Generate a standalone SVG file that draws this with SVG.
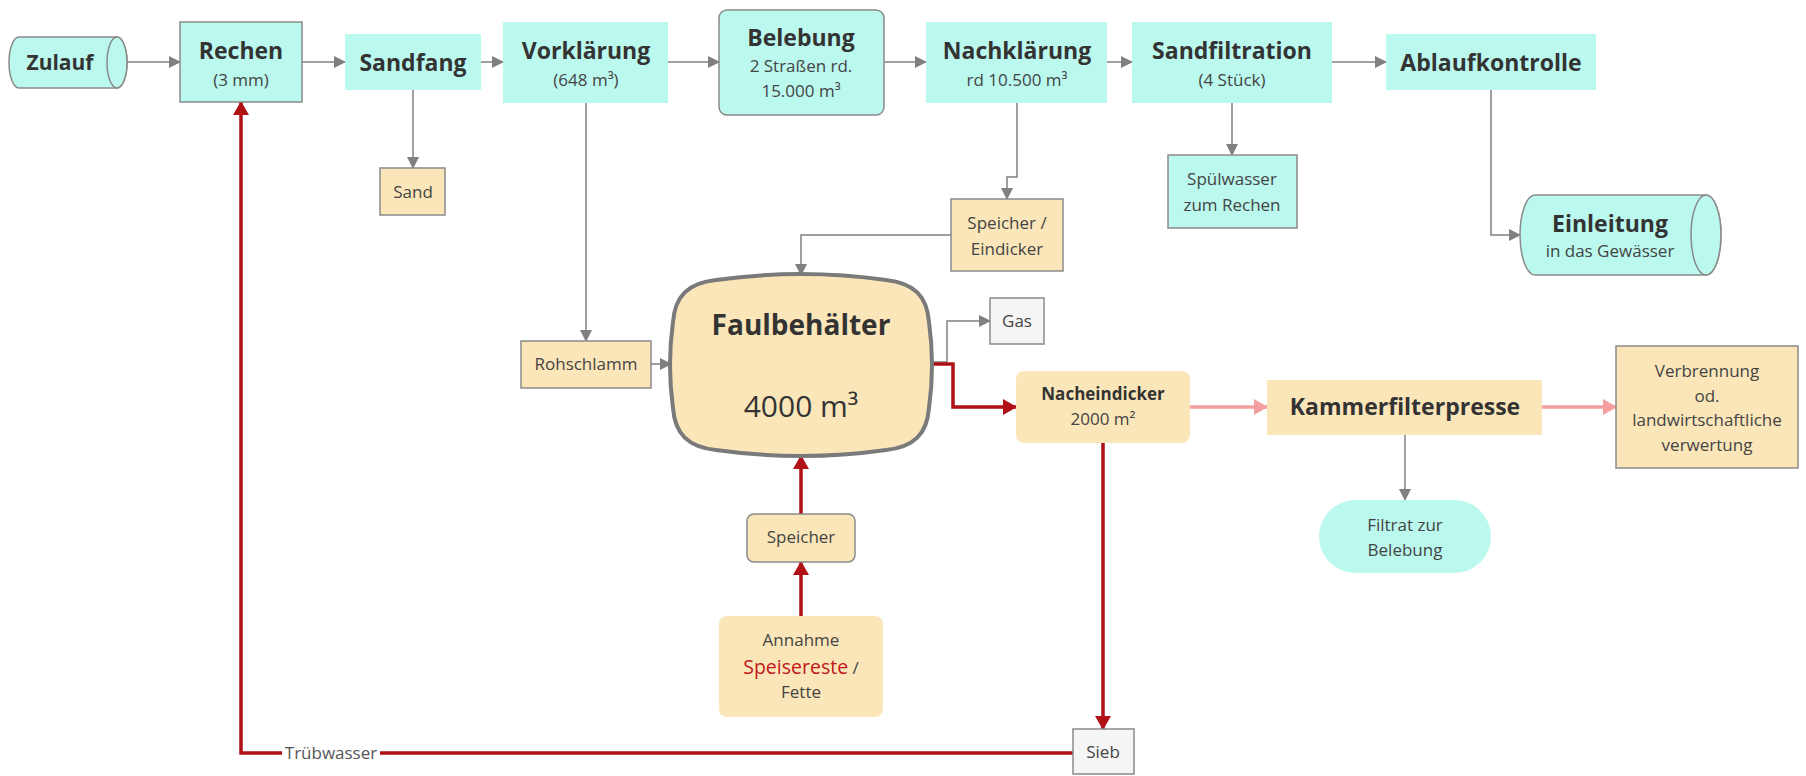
<svg xmlns="http://www.w3.org/2000/svg" width="1806" height="776" viewBox="0 0 1806 776">
<defs>
<style>
.cy{fill:#bbf8ee}
.bg{fill:#fbe6b9}
.gy{fill:#f5f5f5}
.st{stroke:#8a8a8a;stroke-width:1.5}
text{font-family:"Open Sans","Noto Sans","DejaVu Sans",sans-serif;fill:#333;text-anchor:middle}
.h{font-weight:700;font-size:23px}
.s{font-size:17px;fill:#444}
.c{stroke:#808080;stroke-width:1.5;fill:none}
.r{stroke:#b01116;stroke-width:3.5;fill:none}
.p{stroke:#f4a0a0;stroke-width:3.5;fill:none}
</style>
<marker id="ag" markerUnits="userSpaceOnUse" markerWidth="12" markerHeight="12" viewBox="0 0 12 12" refX="11" refY="6" orient="auto"><path d="M0,0 L12,6 L0,12 Z" fill="#808080"/></marker>
<marker id="ar" markerUnits="userSpaceOnUse" markerWidth="14" markerHeight="16" viewBox="0 0 14 16" refX="13" refY="8" orient="auto"><path d="M0,0 L14,8 L0,16 Z" fill="#b01116"/></marker>
<marker id="ap" markerUnits="userSpaceOnUse" markerWidth="14" markerHeight="16" viewBox="0 0 14 16" refX="13" refY="8" orient="auto"><path d="M0,0 L14,8 L0,16 Z" fill="#f4a0a0"/></marker>
</defs>
<rect width="1806" height="776" fill="#fff"/>

<g id="connectors">
<path class="c" marker-end="url(#ag)" d="M127,62 H180"/>
<path class="c" marker-end="url(#ag)" d="M302,62 H345"/>
<path class="c" marker-end="url(#ag)" d="M481,62 H503"/>
<path class="c" marker-end="url(#ag)" d="M668,62 H719"/>
<path class="c" marker-end="url(#ag)" d="M884,62 H926"/>
<path class="c" marker-end="url(#ag)" d="M1107,62 H1132"/>
<path class="c" marker-end="url(#ag)" d="M1332,62 H1386"/>
<path class="c" marker-end="url(#ag)" d="M413,90 V168"/>
<path class="c" marker-end="url(#ag)" d="M586,103 V341"/>
<path class="c" marker-end="url(#ag)" d="M1017,103 V177 H1007 V199"/>
<path class="c" marker-end="url(#ag)" d="M951,235 H801 V275"/>
<path class="c" marker-end="url(#ag)" d="M1232,103 V155"/>
<path class="c" marker-end="url(#ag)" d="M1491,90 V235 H1520"/>
<path class="c" marker-end="url(#ag)" d="M651,364 H671"/>
<path class="c" marker-end="url(#ag)" d="M932,362 H947 V321 H990"/>
<path class="c" marker-end="url(#ag)" d="M1405,435 V500"/>
<path class="r" marker-end="url(#ar)" d="M932,364 H953 V407 H1016"/>
<path class="r" marker-end="url(#ar)" d="M801,514 V456"/>
<path class="r" marker-end="url(#ar)" d="M801,616 V562"/>
<path class="r" marker-end="url(#ar)" d="M1103,443 V729"/>
<path class="r" marker-end="url(#ar)" d="M1073,753 H241 V102"/>
<rect x="282" y="742" width="98" height="22" fill="#fff"/>
<text x="331" y="759" class="s" style="fill:#555">Trübwasser</text>
<path class="p" marker-end="url(#ap)" d="M1190,407 H1267"/>
<path class="p" marker-end="url(#ap)" d="M1542,407 H1616"/>
</g>

<g id="zulauf">
<path class="cy st" d="M19,37 H117 A10,25.5 0 0 1 117,88 H19 A10,25.5 0 0 1 19,37 Z"/>
<ellipse class="cy st" cx="117" cy="62.5" rx="10" ry="25.5"/>
<text x="60" y="70" class="h" style="font-size:21px">Zulauf</text>
</g>
<g id="rechen">
<rect class="cy st" x="180" y="22" width="122" height="80"/>
<text x="241" y="59" class="h">Rechen</text>
<text x="241" y="86" class="s">(3 mm)</text>
</g>
<g id="sandfang">
<rect class="cy" x="345" y="34" width="136" height="56"/>
<text x="413" y="71" class="h">Sandfang</text>
</g>
<g id="vorklaerung">
<rect class="cy" x="503" y="22" width="165" height="81"/>
<text x="586" y="59" class="h">Vorklärung</text>
<text x="586" y="86" class="s">(648 m³)</text>
</g>
<g id="belebung">
<rect class="cy st" x="719" y="10" width="165" height="105" rx="8"/>
<text x="801" y="46" class="h">Belebung</text>
<text x="801" y="72" class="s">2 Straßen rd.</text>
<text x="801" y="97" class="s">15.000 m³</text>
</g>
<g id="nachklaerung">
<rect class="cy" x="926" y="22" width="181" height="81"/>
<text x="1017" y="59" class="h">Nachklärung</text>
<text x="1017" y="86" class="s">rd 10.500 m³</text>
</g>
<g id="sandfiltration">
<rect class="cy" x="1132" y="22" width="200" height="81"/>
<text x="1232" y="59" class="h">Sandfiltration</text>
<text x="1232" y="86" class="s">(4 Stück)</text>
</g>
<g id="ablaufkontrolle">
<rect class="cy" x="1386" y="34" width="210" height="56"/>
<text x="1491" y="71" class="h">Ablaufkontrolle</text>
</g>
<g id="sand">
<rect class="bg st" x="380" y="168" width="65" height="47"/>
<text x="413" y="198" class="s">Sand</text>
</g>
<g id="spuelwasser">
<rect class="cy st" x="1168" y="155" width="129" height="73"/>
<text x="1232" y="185" class="s">Spülwasser</text>
<text x="1232" y="211" class="s">zum Rechen</text>
</g>
<g id="einleitung">
<path class="cy st" d="M1535,195 H1706 A15,40 0 0 1 1706,275 H1535 A15,40 0 0 1 1535,195 Z"/>
<ellipse class="cy st" cx="1706" cy="235" rx="15" ry="40"/>
<text x="1610" y="232" class="h">Einleitung</text>
<text x="1610" y="257" class="s">in das Gewässer</text>
</g>
<g id="speicher-eindicker">
<rect class="bg st" x="951" y="199" width="112" height="72"/>
<text x="1007" y="229" class="s">Speicher /</text>
<text x="1007" y="255" class="s">Eindicker</text>
</g>
<g id="faulbehaelter">
<path class="bg" stroke="#7a7a7a" stroke-width="4" d="M716,280 Q801,268 886,280 C914,283 927,296 929,322 Q935,365 929,408 C927,434 914,447 886,450 Q801,462 716,450 C688,447 675,434 673,408 Q667,365 673,322 C675,296 688,283 716,280 Z"/>
<text x="801" y="335" class="h" style="font-size:28px">Faulbehälter</text>
<text x="801" y="417" style="font-size:30px">4000 m³</text>
</g>
<g id="rohschlamm">
<rect class="bg st" x="521" y="341" width="130" height="47"/>
<text x="586" y="370" class="s">Rohschlamm</text>
</g>
<g id="gas">
<rect class="gy st" x="990" y="298" width="54" height="46"/>
<text x="1017" y="327" class="s">Gas</text>
</g>
<g id="nacheindicker">
<rect class="bg" x="1016" y="371" width="174" height="72" rx="8"/>
<text x="1103" y="400" class="s" style="font-weight:700;fill:#333">Nacheindicker</text>
<text x="1103" y="425" class="s">2000 m²</text>
</g>
<g id="kammerfilterpresse">
<rect class="bg" x="1267" y="380" width="275" height="55"/>
<text x="1405" y="415" class="h">Kammerfilterpresse</text>
</g>
<g id="verbrennung">
<rect class="bg st" x="1616" y="346" width="182" height="122"/>
<text x="1707" y="377" class="s">Verbrennung</text>
<text x="1707" y="402" class="s">od.</text>
<text x="1707" y="426" class="s">landwirtschaftliche</text>
<text x="1707" y="451" class="s">verwertung</text>
</g>
<g id="filtrat">
<rect class="cy" x="1319" y="500" width="172" height="73" rx="36.5"/>
<text x="1405" y="531" class="s">Filtrat zur</text>
<text x="1405" y="556" class="s">Belebung</text>
</g>
<g id="speicher">
<rect class="bg st" x="747" y="514" width="108" height="48" rx="7"/>
<text x="801" y="543" class="s">Speicher</text>
</g>
<g id="annahme">
<rect class="bg" x="719" y="616" width="164" height="101" rx="8"/>
<text x="801" y="646" class="s">Annahme</text>
<text x="801" y="674" class="s"><tspan style="fill:#c0161c;font-size:19.5px">Speisereste</tspan> /</text>
<text x="801" y="698" class="s">Fette</text>
</g>
<g id="sieb">
<rect class="gy st" x="1073" y="729" width="61" height="45"/>
<text x="1103" y="758" class="s">Sieb</text>
</g>
</svg>
